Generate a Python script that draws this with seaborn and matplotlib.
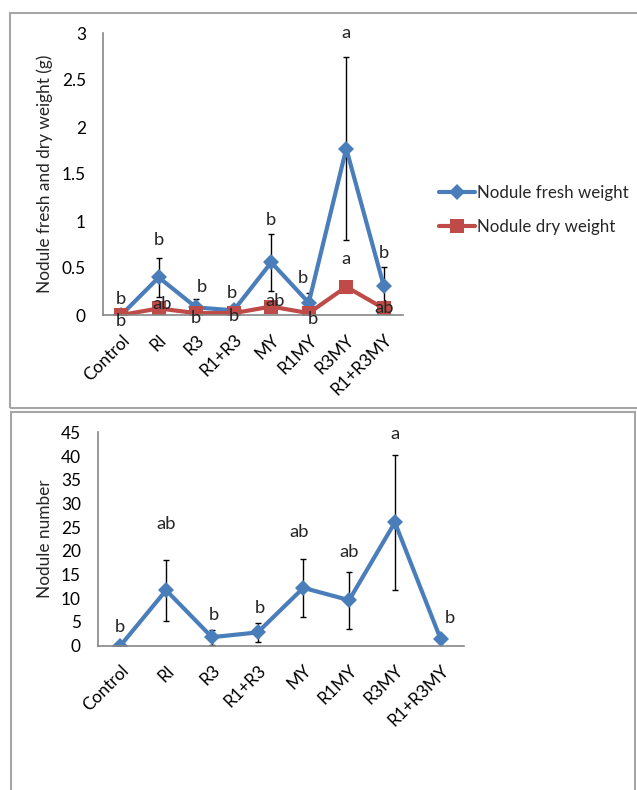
import matplotlib
matplotlib.use("Agg")
import matplotlib.pyplot as plt
import seaborn as sns
import pandas as pd
import numpy as np
from matplotlib.patches import Rectangle

categories = ["Control", "RI", "R3", "R1+R3", "MY", "R1MY", "R3MY", "R1+R3MY"]

fresh_weight = [0.0, 0.40, 0.08, 0.05, 0.56, 0.13, 1.77, 0.31]
fresh_err = [0.0, 0.205, 0.09, 0.04, 0.30, 0.10, 0.97, 0.20]
dry_weight = [0.0, 0.07, 0.02, 0.02, 0.09, 0.02, 0.30, 0.07]
fresh_letters = ["b", "b", "b", "b", "b", "b", "a", "b"]
fresh_letter_y = [0.17, 0.80, 0.30, 0.23, 1.01, 0.39, 3.00, 0.66]
dry_letters = ["b", "ab", "b", "b", "ab", "b", "a", "ab"]
dry_letter_y = [-0.06, 0.12, -0.03, -0.01, 0.15, -0.04, 0.60, 0.07]

nodule_number = [0.0, 11.7, 1.8, 2.8, 12.2, 9.6, 26.0, 1.4]
nodule_err = [0.0, 6.4, 1.6, 2.0, 6.1, 6.0, 14.2, 0.5]
number_letters = ["b", "ab", "b", "b", "ab", "ab", "a", "b"]
number_letter_y = [4.0, 25.7, 6.5, 7.9, 24.0, 19.7, 44.6, 5.8]

# small horizontal nudges of the letter labels (category units)
fresh_dx = [0.0, 0.0, 0.15, -0.05, 0.0, -0.15, 0.0, 0.0]
dry_dx = [0.0, 0.1, 0.0, 0.0, 0.1, 0.12, 0.0, 0.0]
number_dx = [0.0, 0.0, 0.05, 0.05, -0.1, 0.0, 0.0, 0.2]

blue = "#4A7EBB"
red = "#BE4B48"

sns.set_theme(style="white")
plt.rcParams["font.family"] = ["Lato", "DejaVu Sans"]
FS = 12.4
LFS = 13.2

W, H = 637, 790
fig = plt.figure(figsize=(W / 100, H / 100), dpi=100)

def rect(l, t, r, b):
    return [l / W, (H - b) / H, (r - l) / W, (b - t) / H]

# panel borders
fig.patches.append(Rectangle((10 / W, (H - 408) / H), (645 - 10) / W, (408 - 13) / H,
                             transform=fig.transFigure, fill=False, ec="#A6A6A6", lw=1.5))
fig.patches.append(Rectangle((11 / W, -0.05), (635 - 11) / W, (H - 412) / H + 0.05,
                             transform=fig.transFigure, fill=False, ec="#A6A6A6", lw=1.5))

def style_axes(ax, label_x_px, left_px, width_px):
    for s in ["top", "right"]:
        ax.spines[s].set_visible(False)
    for s in ["left", "bottom"]:
        ax.spines[s].set_color("#868686")
        ax.spines[s].set_linewidth(1.2)
    ax.tick_params(axis="y", length=0, labelsize=FS, colors="black", pad=12)
    ax.tick_params(axis="x", length=0, labelsize=FS, colors="black", pad=12)
    ax.set_xlim(-0.5, len(categories) - 0.5)
    ax.set_xticks(range(len(categories)))
    ax.set_xticklabels(categories, rotation=45, ha="right", rotation_mode="anchor")
    ax.set_xlabel("")
    ax.yaxis.label.set_va("center")
    ax.yaxis.set_label_coords((label_x_px - left_px) / width_px, 0.5)

x = np.arange(len(categories))

# ---------- top panel ----------
ax1 = fig.add_axes(rect(102.5, 33, 402.5, 315))
df1 = pd.DataFrame({
    "Treatment": categories * 2,
    "value": fresh_weight + dry_weight,
    "series": ["Nodule fresh weight"] * 8 + ["Nodule dry weight"] * 8,
})
sns.lineplot(data=df1, x="Treatment", y="value", hue="series", style="series",
             markers={"Nodule fresh weight": "D", "Nodule dry weight": "s"},
             dashes=False, palette={"Nodule fresh weight": blue, "Nodule dry weight": red},
             linewidth=3, markersize=8.5, markeredgewidth=0, ax=ax1, sort=False)
for ln in ax1.lines:
    if ln.get_marker() == "s":
        ln.set_markersize(9.5)
ax1.errorbar(x, fresh_weight, yerr=fresh_err, fmt="none", ecolor="black",
             elinewidth=1, capsize=2.5, capthick=1, zorder=1)
ax1.set_ylim(0, 3)
ax1.set_yticks([0, 0.5, 1, 1.5, 2, 2.5, 3])
ax1.set_yticklabels(["0", "0.5", "1", "1.5", "2", "2.5", "3"])
ax1.set_ylabel("Nodule fresh and dry weight (g)", fontsize=FS)
style_axes(ax1, 45, 102.5, 300)
for i in range(len(categories)):
    ax1.text(i + fresh_dx[i], fresh_letter_y[i], fresh_letters[i], ha="center",
             va="center", fontsize=LFS, clip_on=False)
    ax1.text(i + dry_dx[i], dry_letter_y[i], dry_letters[i], ha="center",
             va="center", fontsize=LFS, clip_on=False)
leg = ax1.legend(loc="center left", bbox_to_anchor=(424 / W, (H - 210) / H),
                 bbox_transform=fig.transFigure, frameon=False, fontsize=12.2,
                 handlelength=2.1, handletextpad=0.1, labelspacing=1.1)

# ---------- bottom panel ----------
ax2 = fig.add_axes(rect(97.5, 432.3, 463.5, 645.7))
df2 = pd.DataFrame({"Treatment": categories, "value": nodule_number})
sns.lineplot(data=df2, x="Treatment", y="value", color=blue, marker="D",
             linewidth=3, markersize=8.5, markeredgewidth=0, ax=ax2, sort=False)
ax2.errorbar(x, nodule_number, yerr=nodule_err, fmt="none", ecolor="black",
             elinewidth=1, capsize=2.5, capthick=1, zorder=1)
ax2.set_ylim(0, 45)
ax2.set_yticks(range(0, 50, 5))
ax2.set_ylabel("Nodule number", fontsize=FS)
style_axes(ax2, 45, 97.5, 366)
for i in range(len(categories)):
    ax2.text(i + number_dx[i], number_letter_y[i], number_letters[i], ha="center",
             va="center", fontsize=LFS, clip_on=False)

fig.savefig("out.png", dpi=100)
